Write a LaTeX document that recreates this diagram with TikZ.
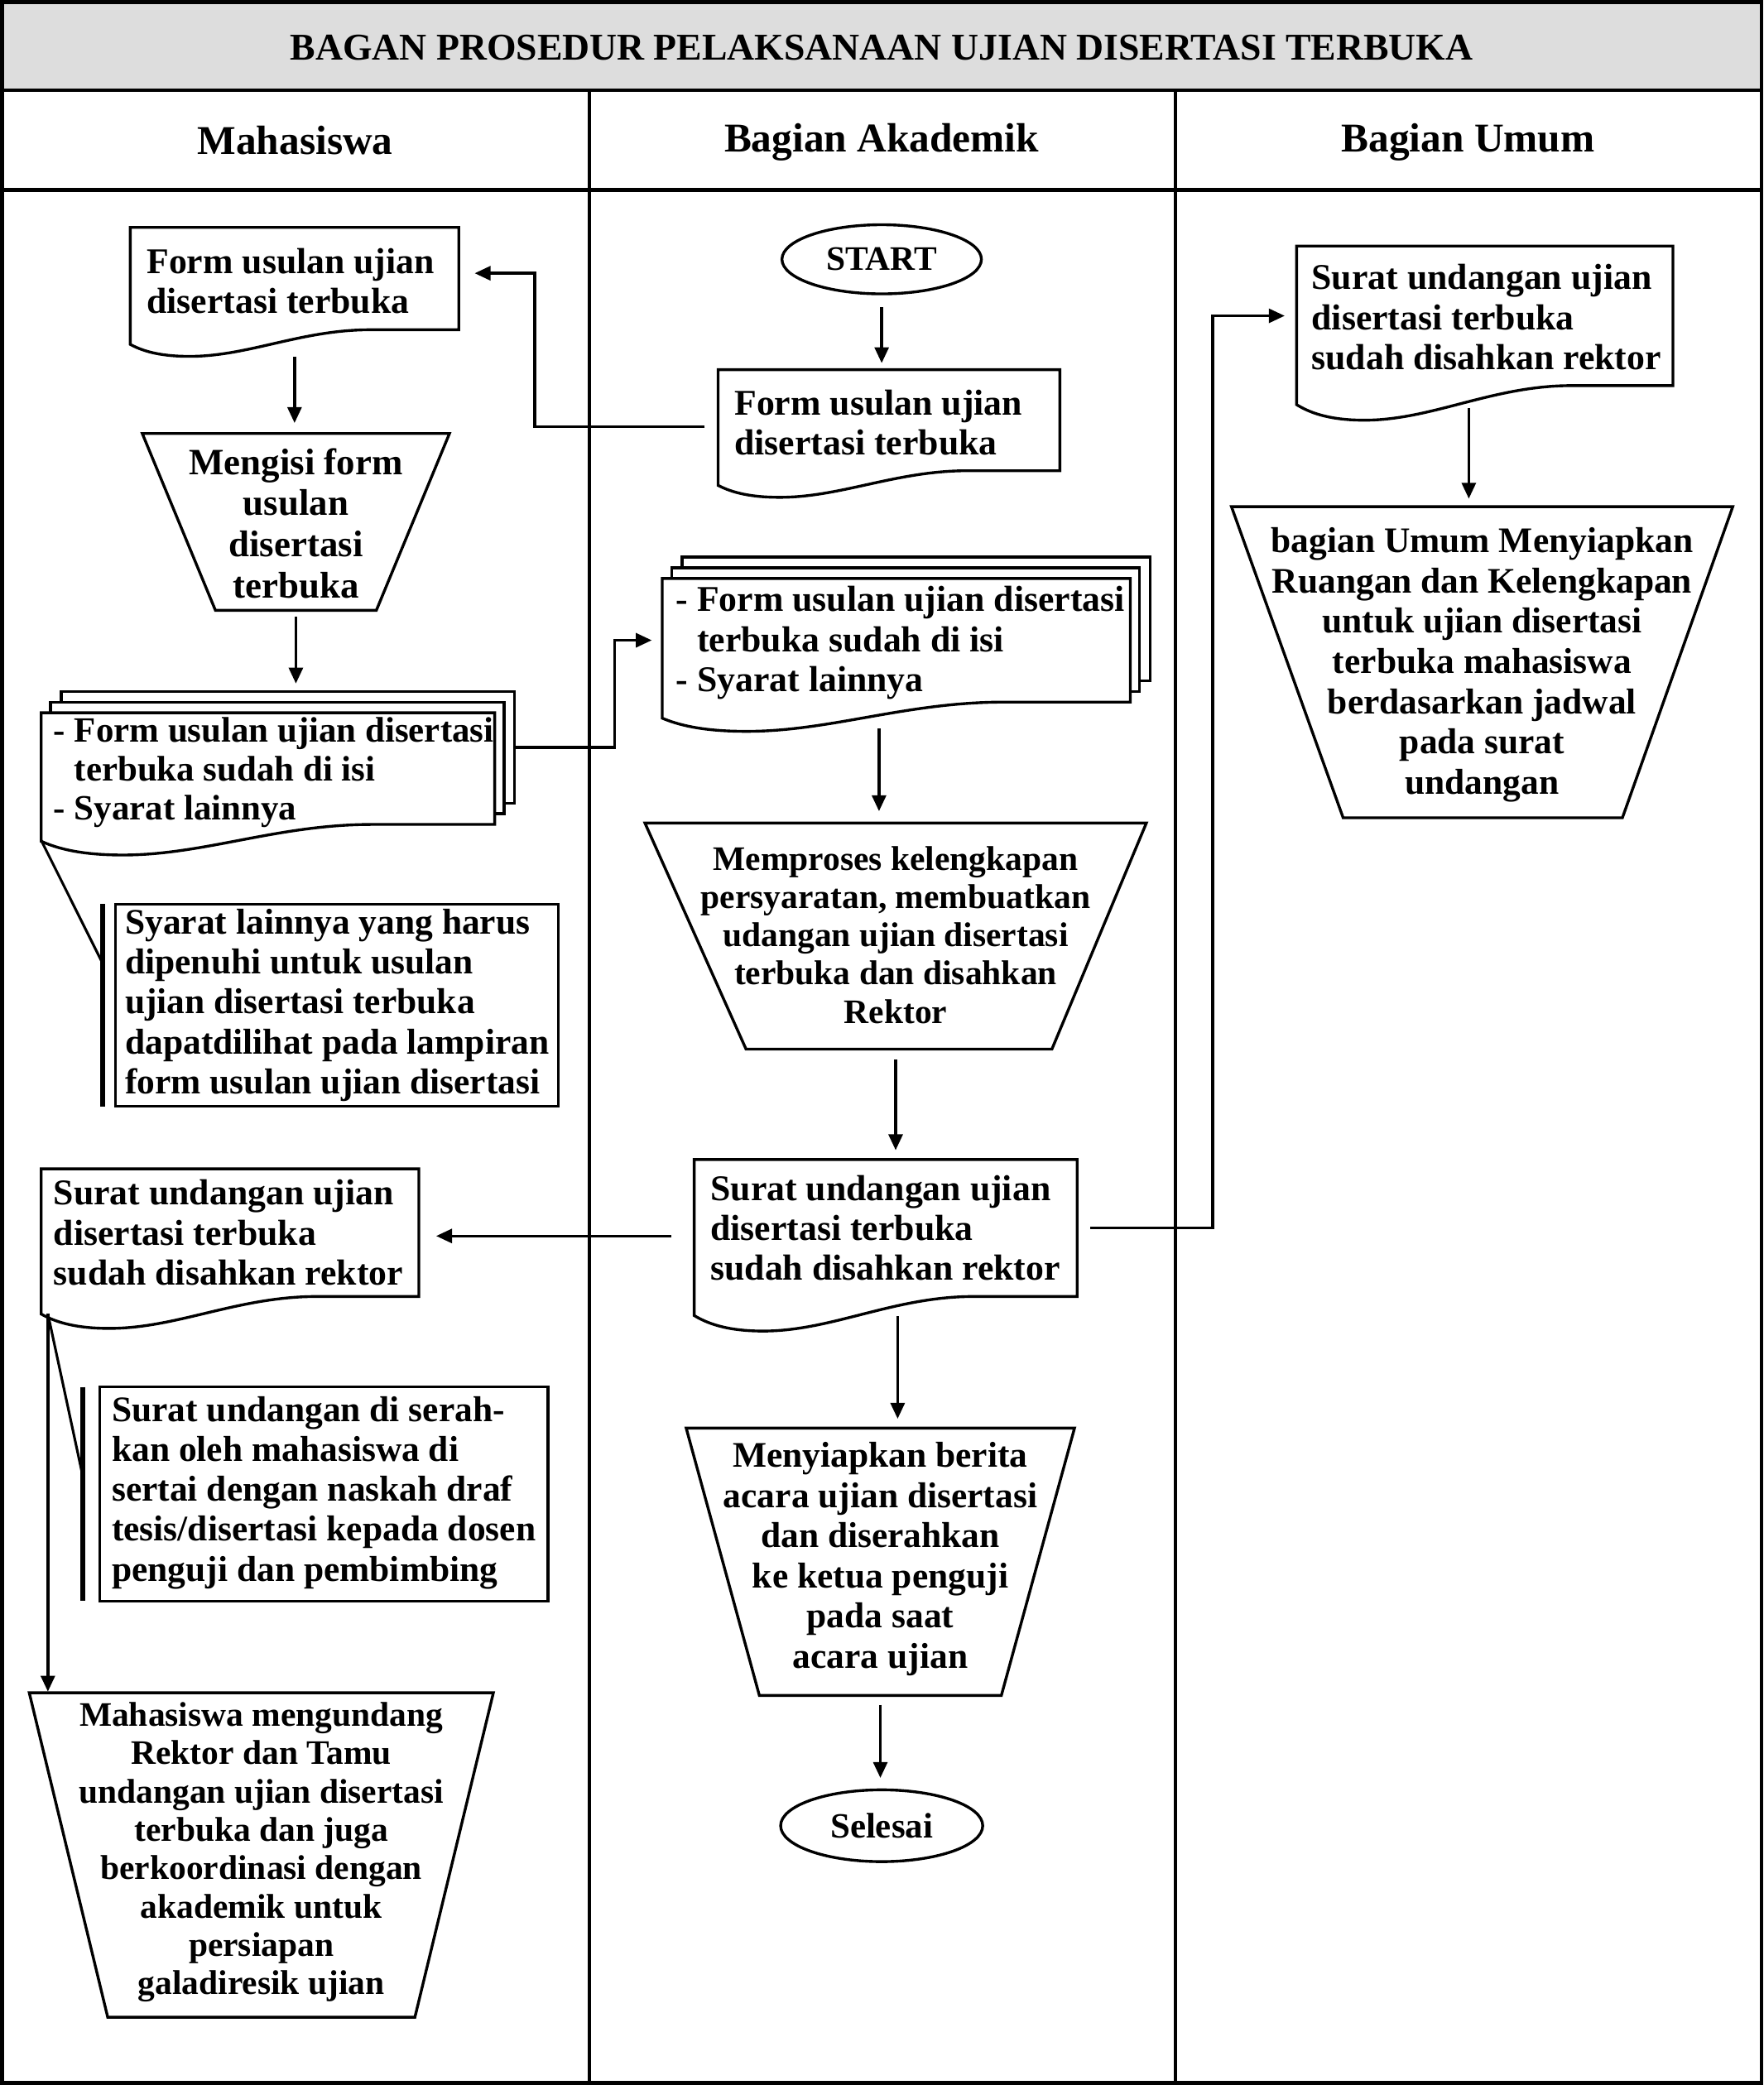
\documentclass[tikz,border=0pt]{standalone}
\usepackage{fontspec}
\setmainfont{Liberation Serif}
\usetikzlibrary{arrows.meta,calc,fit,shapes.geometric,backgrounds}
\definecolor{titlegray}{HTML}{DDDDDD}

\newcommand\docdraw[2]{%
 \filldraw[shp, fill=white] (#1.north west) -- (#1.north east) -- (#1.south east)
  -- ($(#1.south west)!0.73!(#1.south east)$)
  .. controls ($(#1.south west)!0.52!(#1.south east)$) and ($(#1.south west)!0.36!(#1.south east)+(0,#2)$)
  .. ($(#1.south west)!0.18!(#1.south east)+(0,#2)$)
  .. controls ($(#1.south west)!0.08!(#1.south east)+(0,#2)$) and ($(#1.south west)!0.03!(#1.south east)+(0,0.75*#2)$)
  .. ($(#1.south west)+(0,0.55*#2)$) -- cycle;}
\newcommand\trapdraw[3]{%
 \draw[shp] (#1.north west) -- (#1.north east) -- ($(#1.south east)+(-#3,0)$) -- ($(#1.south west)+(#2,0)$) -- cycle;}

\begin{document}
\begin{tikzpicture}[x=0.02cm, y=-0.02cm,
  shp/.style={line width=1.2pt, line join=miter},
  arr/.style={line width=1.2pt, -{Triangle[length=6.8pt,width=6pt]}},
  conn/.style={line width=1.1pt},
  notebar/.style={line width=2.1pt},
  frameline/.style={line width=1.6pt},
  divline/.style={line width=1.3pt},
  fitbox/.style={inner sep=0pt, outer sep=0pt},
  titletxt/.style={font=\fontsize{16.2}{19}\selectfont\bfseries, inner sep=0pt},
  headtxt/.style={font=\fontsize{17.5}{20}\selectfont\bfseries, inner sep=0pt},
  doctxt/.style={inner sep=0pt, align=left, font=\fontsize{15.5}{17.1}\selectfont\bfseries},
  multim/.style={inner sep=0pt, align=left, font=\fontsize{15.2}{16.6}\selectfont\bfseries},
  multia/.style={inner sep=0pt, align=left, font=\fontsize{15.5}{17.1}\selectfont\bfseries},
  notetxt/.style={inner sep=0pt, align=left, font=\fontsize{15.4}{17.1}\selectfont\bfseries},
  trapA/.style={inner sep=0pt, align=center, font=\fontsize{15.9}{17.6}\selectfont\bfseries},
  trapB/.style={inner sep=0pt, align=center, font=\fontsize{14.7}{16.4}\selectfont\bfseries},
  trapC/.style={inner sep=0pt, align=center, font=\fontsize{15.4}{17.2}\selectfont\bfseries},
  term/.style={ellipse, draw, line width=1.2pt, inner sep=0pt}
]
\useasboundingbox (0,0) rectangle (1326,1568);

% table frame
\fill[titlegray] (1.5,1.5) rectangle (1324.5,68);
\draw[frameline] (1.5,1.5) rectangle (1324.5,1566.5);
\draw[frameline] (1.5,68) -- (1324.5,68);
\draw[frameline] (1.5,143) -- (1324.5,143);
\draw[divline] (443,68) -- (443,1566.5);
\draw[divline] (884,68) -- (884,1566.5);

\node[titletxt, anchor=base] (title) at (663,45) {BAGAN PROSEDUR PELAKSANAAN UJIAN DISERTASI TERBUKA};
\node[headtxt, anchor=base] (hm) at (222,116) {Mahasiswa};
\node[headtxt, anchor=base] (ha) at (663,114) {Bagian Akademik};
\node[headtxt, anchor=base] (hu) at (1104,114) {Bagian Umum};

% ---------- boxes (geometry) ----------
\node[fitbox, fit={(98,171) (345,248)}] (m1) {};
\node[fitbox, fit={(107,326) (338,459)}] (m2) {};
\node[fitbox, fit={(31,536) (372,620)}] (m3) {};
\node[fitbox, draw, line width=1.2pt, fit={(87,680) (420,832)}] (m4) {};
\node[fitbox, fit={(31,879) (315,975)}] (m5) {};
\node[fitbox, draw, line width=1.2pt, fit={(75,1043) (412,1204)}] (m6) {};
\node[fitbox, fit={(22,1273) (371,1517)}] (m7) {};

\node[term, minimum width=3cm, minimum height=1.04cm, font=\fontsize{14.7}{16}\selectfont\bfseries] (start) at (663,195) {START};
\node[fitbox, fit={(540,278) (797,354)}] (a1) {};
\node[fitbox, fit={(498,435) (850,528)}] (a2) {};
\node[fitbox, fit={(485,619) (862,789)}] (a3) {};
\node[fitbox, fit={(522,872) (810,975)}] (a4) {};
\node[fitbox, fit={(516,1074) (808,1275)}] (a5) {};
\node[term, minimum width=3.04cm, minimum height=1.08cm, font=\fontsize{15.2}{16}\selectfont\bfseries] (fin) at (663,1373) {Selesai};

\node[fitbox, fit={(975,185) (1258,290)}] (u1) {};
\node[fitbox, fit={(926,381) (1303,615)}] (u2) {};

% ---------- texts ----------
\node[doctxt, anchor=west] (m1t) at ($(m1.west)+(12,2)$) {Form usulan ujian\\disertasi terbuka};
\node[trapA] (m2t) at ($(m2.center)+(0,1)$) {Mengisi form\\usulan\\disertasi\\terbuka};
\node[multim, anchor=west] (m3t) at ($(m3.west)+(9,3)$) {- Form usulan ujian disertasi\\\hphantom{- }terbuka sudah di isi\\- Syarat lainnya};
\node[notetxt] (m4t) at (m4.center) {Syarat lainnya yang harus\\dipenuhi untuk usulan\\ujian disertasi terbuka\\dapatdilihat pada lampiran\\form usulan ujian disertasi};
\node[doctxt, anchor=west] (m5t) at ($(m5.west)+(9,0)$) {Surat undangan ujian\\disertasi terbuka\\sudah disahkan rektor};
\node[notetxt] (m6t) at ($(m6.center)+(0,-1)$) {Surat undangan di serah-\\kan oleh mahasiswa di\\sertai dengan naskah draf\\tesis/disertasi kepada dosen\\penguji dan pembimbing};
\node[trapB] (m7t) at ($(m7.center)+(0,-2)$) {Mahasiswa mengundang\\Rektor dan Tamu\\undangan ujian disertasi\\terbuka dan juga\\berkoordinasi dengan\\akademik untuk\\persiapan\\galadiresik ujian};

\node[doctxt, anchor=west] (a1t) at ($(a1.west)+(12,2)$) {Form usulan ujian\\disertasi terbuka};
\node[multia, anchor=west] (a2t) at ($(a2.west)+(10,2)$) {- Form usulan ujian disertasi\\\hphantom{- }terbuka sudah di isi\\- Syarat lainnya};
\node[trapB] (a3t) at ($(a3.center)+(0,-1)$) {Memproses kelengkapan\\persyaratan, membuatkan\\udangan ujian disertasi\\terbuka dan disahkan\\Rektor};
\node[doctxt, anchor=west] (a4t) at ($(a4.west)+(12,0)$) {Surat undangan ujian\\disertasi terbuka\\sudah disahkan rektor};
\node[trapC] (a5t) at ($(a5.center)+(0,-2)$) {Menyiapkan berita\\acara ujian disertasi\\dan diserahkan\\ke ketua penguji\\pada saat\\acara ujian};

\node[doctxt, anchor=west] (u1t) at ($(u1.west)+(11,1)$) {Surat undangan ujian\\disertasi terbuka\\sudah disahkan rektor};
\node[trapC] (u2t) at ($(u2.center)+(0,2)$) {bagian Umum Menyiapkan\\Ruangan dan Kelengkapan\\untuk ujian disertasi\\terbuka mahasiswa\\berdasarkan jadwal\\pada surat\\undangan};

% trapezium outlines
\trapdraw{m2}{55}{55}
\trapdraw{m7}{59}{59}
\trapdraw{a3}{76}{71}
\trapdraw{a5}{55}{55}
\trapdraw{u2}{84}{83}

% document outlines
\begin{scope}[on background layer]
 \docdraw{m1}{20}
 \node[shp, draw, fill=white, fitbox, fit={($(m3.north west)+(15,-16)$) ($(m3.south east)+(15,-16)$)}] (m3c) {};
 \node[shp, draw, fill=white, fitbox, fit={($(m3.north west)+(7,-8)$) ($(m3.south east)+(7,-8)$)}] (m3b) {};
 \docdraw{m3}{23}
 \docdraw{m5}{24}
 \docdraw{a1}{20}
 \node[shp, draw, fill=white, fitbox, fit={($(a2.north west)+(15,-16)$) ($(a2.south east)+(15,-16)$)}] (a2c) {};
 \node[shp, draw, fill=white, fitbox, fit={($(a2.north west)+(7,-8)$) ($(a2.south east)+(7,-8)$)}] (a2b) {};
 \docdraw{a2}{22}
 \docdraw{a4}{26}
 \docdraw{u1}{26}
\end{scope}

% helper coordinates
\coordinate (a1w) at ($(a1.west)+(0,5)$);
\coordinate (m1e) at ($(m1.east)+(0,-4)$);
\coordinate (a4w) at ($(a4.west)+(0,6)$);
\coordinate (a2o) at ($(a2.south)+(-13,0)$);
\coordinate (a4o) at ($(a4.south)+(9,0)$);
\coordinate (u1o) at ($(u1.south)+(-12,0)$);
\coordinate (m5s) at ($(m5.south west)+(5,13)$);
\coordinate (m4b) at ($(m4.north west)!0.29!(m4.south west)+(-10,0)$);
\coordinate (m6b) at ($(m6.north west)!0.41!(m6.south west)+(-13,0)$);

% connectors
\draw[arr, shorten <=11.4pt, shorten >=4.5pt] (m1.south) -- (m1.south |- m2.north);
\draw[arr, shorten <=2.8pt, shorten >=3.4pt] (m2.south) -- (m2.south |- m3c.north);
\draw[arr, shorten >=4.5pt] (m3c.east) -- ++(75,0) |- (a2.west);
\draw[arr, shorten <=5.7pt, shorten >=6.8pt] (a1w) -- ++(-138,0) |- (m1e);
\draw[arr, shorten <=5.1pt, shorten >=2.8pt] (start.south) -- (start.south |- a1.north);
\draw[arr, shorten <=11.4pt, shorten >=5.1pt] (a2o) -- (a2o |- a3.north);
\draw[arr, shorten <=4.5pt, shorten >=4pt] (a3.south) -- (a3.south |- a4.north);
\draw[arr, shorten <=9.7pt, shorten >=7.4pt] (a4w) -- (a4w -| m5.east);
\draw[arr, shorten <=5.7pt, shorten >=5.1pt] (a4.east) -- ++(102,0) |- (u1.west);
\draw[arr, shorten <=8.5pt, shorten >=4pt] (a4o) -- (a4o |- a5.north);
\draw[arr, shorten <=4pt, shorten >=4.5pt] (a5.south) -- (a5.south |- fin.north);
\draw[arr, shorten <=9.7pt, shorten >=3.4pt] (u1o) -- (u1o |- u2.north);
\draw[arr, shorten >=0.5pt] (m5s) -- (m5s |- m7.north);

% annotations
\draw[conn] ($(m3.south west)+(0,12)$) -- (m4b);
\draw[notebar] ($(m4.north west)+(-10,0)$) -- ($(m4.south west)+(-10,0)$);
\draw[conn] (m5s) -- (m6b);
\draw[notebar] ($(m6.north west)+(-13,0)$) -- ($(m6.south west)+(-13,0)$);
\end{tikzpicture}
\end{document}
